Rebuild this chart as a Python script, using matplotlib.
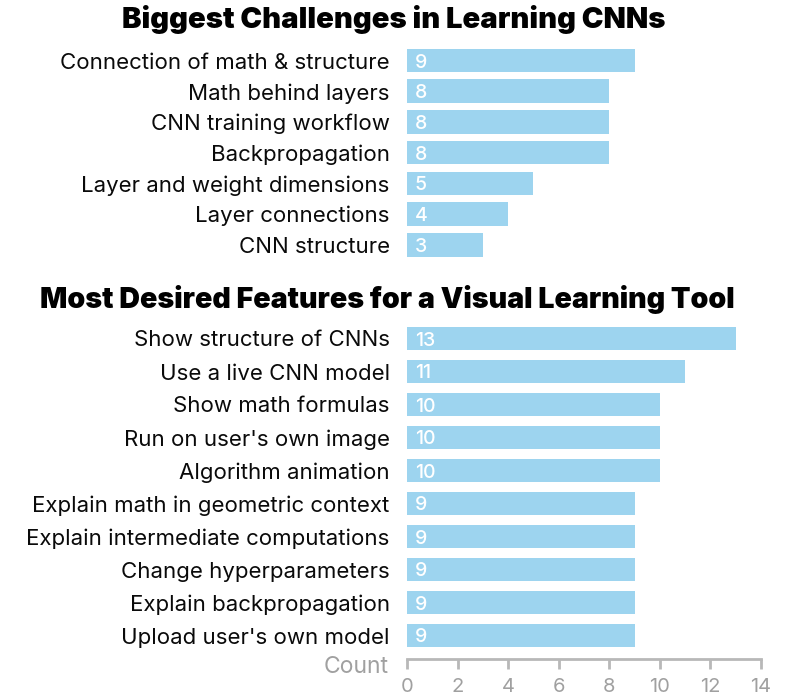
import matplotlib
matplotlib.use("Agg")
import matplotlib.pyplot as plt

# Chart data
challenge_labels = [
    "Connection of math & structure",
    "Math behind layers",
    "CNN training workflow",
    "Backpropagation",
    "Layer and weight dimensions",
    "Layer connections",
    "CNN structure",
]
challenge_counts = [9, 8, 8, 8, 5, 4, 3]

feature_labels = [
    "Show structure of CNNs",
    "Use a live CNN model",
    "Show math formulas",
    "Run on user's own image",
    "Algorithm animation",
    "Explain math in geometric context",
    "Explain intermediate computations",
    "Change hyperparameters",
    "Explain backpropagation",
    "Upload user's own model",
]
feature_counts = [13, 11, 10, 10, 10, 9, 9, 9, 9, 9]

x_ticks = [0, 2, 4, 6, 8, 10, 12, 14]

BAR_COLOR = "#9dd4ef"
AXIS_GRAY = "#b8b8b8"
TEXT_GRAY = "#a0a0a0"

plt.rcParams["font.family"] = ["Inter", "DejaVu Sans"]

W, H = 788, 700
fig = plt.figure(figsize=(W / 100, H / 100), dpi=100)


def px_axes(left, top, right, bottom):
    return fig.add_axes([left / W, 1 - bottom / H, (right - left) / W, (bottom - top) / H])


def draw_bars(ax, labels, counts, bar_h):
    ys = list(range(len(labels)))
    ax.barh(ys, counts, height=bar_h, color=BAR_COLOR, edgecolor="none")
    ax.set_ylim(len(labels) - 0.5, -0.5)
    ax.set_xlim(0, 14)
    ax.set_yticks(ys)
    ax.set_yticklabels(labels, fontsize=16, color="#0a0a0a")
    ax.tick_params(axis="y", length=0, pad=12.5)
    for lab in ax.get_yticklabels():
        lab.set_verticalalignment("center_baseline")
    for y, c in zip(ys, counts):
        ax.text(0.3, y, str(c), color="white", fontsize=14, fontweight="medium",
                ha="left", va="center_baseline")
    for s in ["top", "right", "left"]:
        ax.spines[s].set_visible(False)


# Top chart
ax1 = px_axes(407, 45.2, 761, 260.1)
draw_bars(ax1, challenge_labels, challenge_counts, 0.77)
ax1.spines["bottom"].set_visible(False)
ax1.set_xticks([])

# Bottom chart
ax2 = px_axes(407, 322, 761, 652)
draw_bars(ax2, feature_labels, feature_counts, 0.71)
ax2.spines["bottom"].set_position(("outward", 5))
ax2.spines["bottom"].set_color(AXIS_GRAY)
ax2.spines["bottom"].set_linewidth(2)
ax2.set_xticks(x_ticks)
ax2.tick_params(axis="x", direction="out", length=7.5, width=2,
                color=AXIS_GRAY, labelcolor=TEXT_GRAY, labelsize=14.5, pad=6.5)

# Titles and axis name
fig.text(394 / W, 1 - 20 / H, "Biggest Challenges in Learning CNNs",
         ha="center", va="center", fontsize=21, fontweight="black")
fig.text(387 / W, 1 - 299 / H, "Most Desired Features for a Visual Learning Tool",
         ha="center", va="center", fontsize=20.6, fontweight="black")
fig.text(389 / W, 1 - 667 / H, "Count", ha="right", va="center",
         fontsize=16.5, color=TEXT_GRAY)

fig.savefig("out.png", dpi=100)
